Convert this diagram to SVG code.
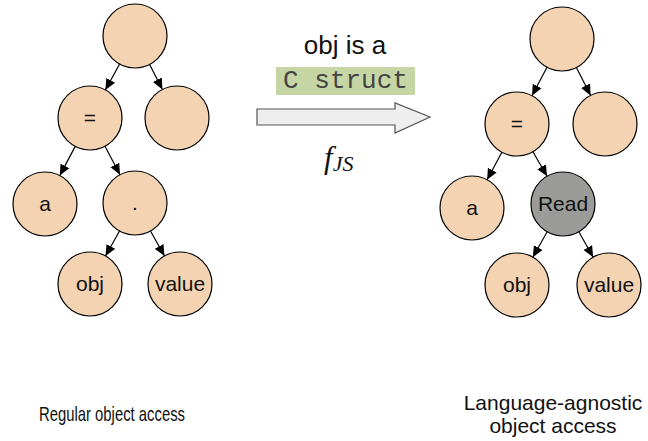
<svg xmlns="http://www.w3.org/2000/svg" width="648" height="441" viewBox="0 0 648 441">
  <style>
    .node { fill: #F3D3B2; stroke: #000; stroke-width: 1.2; }
    .node.read { fill: #9B9C99; }
    .lbl { font-family: "Liberation Sans", Arial, Helvetica, sans-serif; font-size: 21px; fill: #111; text-anchor: middle; }
    .edge { stroke: #000; stroke-width: 1.2; fill: none; marker-end: url(#arrow); }
    .caption { font-family: "Liberation Sans", Arial, Helvetica, sans-serif; font-size: 21px; fill: #111; }
  </style>
  <defs>
    <marker id="arrow" viewBox="0 0 10 10" refX="10" refY="5" markerWidth="11" markerHeight="11" markerUnits="userSpaceOnUse" orient="auto">
      <path d="M0,0.5 L10,5 L0,9.5 Z" fill="#000"/>
    </marker>
  </defs>

  <rect width="648" height="441" fill="#fff"/>

  <!-- regular tree -->
  <g id="L-root"><circle class="node" cx="135" cy="36" r="32"/></g>
  <g id="L-assign"><circle class="node" cx="90" cy="118" r="32"/><text class="lbl" x="90" y="125">=</text></g>
  <g id="L-rhs"><circle class="node" cx="177" cy="118" r="32"/></g>
  <g id="L-a"><circle class="node" cx="45" cy="204" r="32"/><text class="lbl" x="45" y="211">a</text></g>
  <g id="L-dot"><circle class="node" cx="135" cy="203" r="32"/><text class="lbl" x="135" y="210">.</text></g>
  <g id="L-obj"><circle class="node" cx="90" cy="284" r="32"/><text class="lbl" x="90" y="291">obj</text></g>
  <g id="L-value"><circle class="node" cx="180" cy="284" r="32"/><text class="lbl" x="180" y="291">value</text></g>

  <!-- language-agnostic tree -->
  <g id="R-root"><circle class="node" cx="562" cy="39" r="32"/></g>
  <g id="R-assign"><circle class="node" cx="517" cy="124" r="32"/><text class="lbl" x="517" y="131">=</text></g>
  <g id="R-rhs"><circle class="node" cx="605" cy="124" r="32"/></g>
  <g id="R-a"><circle class="node" cx="472" cy="208" r="32"/><text class="lbl" x="472" y="215">a</text></g>
  <g id="R-read"><circle class="node read" cx="563" cy="204" r="32"/><text class="lbl" x="563" y="211">Read</text></g>
  <g id="R-obj"><circle class="node" cx="517" cy="285" r="32"/><text class="lbl" x="517" y="292">obj</text></g>
  <g id="R-value"><circle class="node" cx="609" cy="285" r="32"/><text class="lbl" x="609" y="292">value</text></g>

  <!-- tree edges -->
  <g id="edges">
    <line class="edge" x1="119.6" y1="64" x2="105.4" y2="90"/>
    <line class="edge" x1="149.6" y1="64.5" x2="162.4" y2="89.5"/>
    <line class="edge" x1="75.2" y1="146.4" x2="59.8" y2="175.6"/>
    <line class="edge" x1="105" y1="146.3" x2="120" y2="174.7"/>
    <line class="edge" x1="119.5" y1="231" x2="105.5" y2="256"/>
    <line class="edge" x1="150.5" y1="231" x2="164.5" y2="256"/>

    <line class="edge" x1="547" y1="67.3" x2="532" y2="95.7"/>
    <line class="edge" x1="576.4" y1="67.5" x2="590.6" y2="95.5"/>
    <line class="edge" x1="501.9" y1="152.2" x2="487.1" y2="179.8"/>
    <line class="edge" x1="532.9" y1="151.7" x2="547.1" y2="176.3"/>
    <line class="edge" x1="547.2" y1="231.8" x2="532.8" y2="257.2"/>
    <line class="edge" x1="578.8" y1="231.8" x2="593.2" y2="257.2"/>
  </g>

  <!-- transformation -->
  <g id="transform">
    <text x="345" y="54" font-family="Liberation Sans, Arial, sans-serif" font-size="26" fill="#111" text-anchor="middle">obj is a</text>
    <rect x="276" y="67" width="139" height="28" fill="#C5D6A4"/>
    <text x="345.5" y="88" font-family="Liberation Mono, Courier New, monospace" font-size="26" fill="#444" text-anchor="middle">C struct</text>
    <path d="M257,109 H395 V103 L430,117 L395,133 V125 H257 Z" fill="#EEEEEE" stroke="#555" stroke-width="1.2"/>
    <text x="324" y="168" font-family="Liberation Serif, Times New Roman, serif" font-style="italic" font-size="31" fill="#111">f<tspan font-size="22" dy="3">JS</tspan></text>
  </g>

  <!-- captions -->
  <text class="caption" x="39" y="421" font-size="17" textLength="146" lengthAdjust="spacingAndGlyphs">Regular object access</text>
  <text class="caption" x="553" y="410" text-anchor="middle">Language-agnostic</text>
  <text class="caption" x="553" y="433" text-anchor="middle">object access</text>
</svg>
